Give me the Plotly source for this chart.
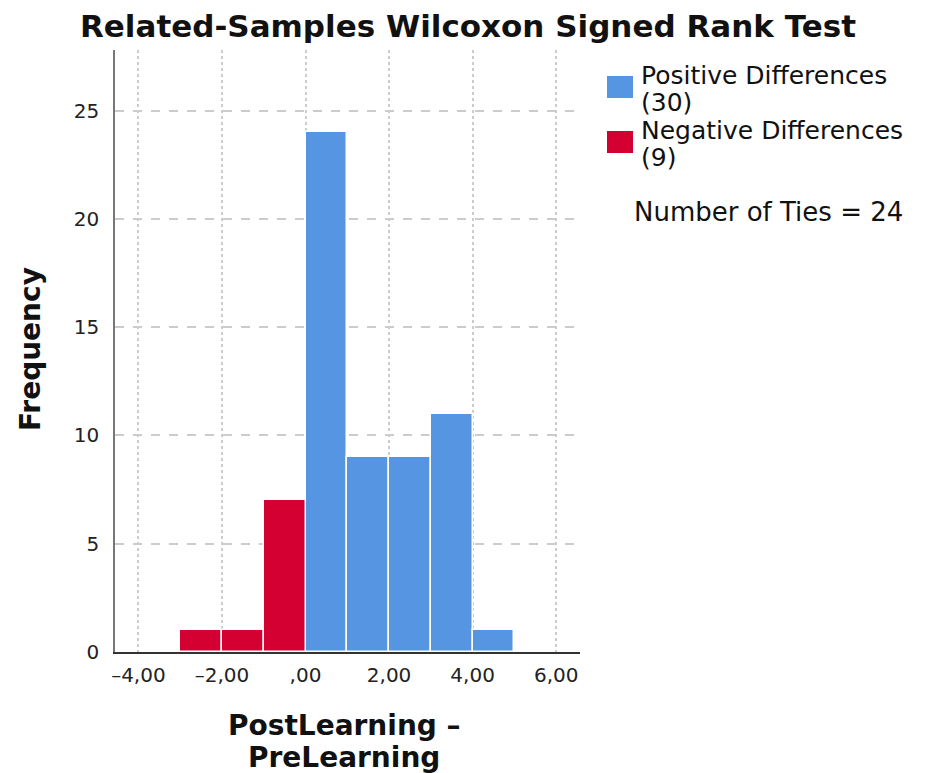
import plotly.graph_objects as go

# Histogram of paired differences (bin width 1)
neg_bins = [-2.5, -1.5, -0.5]
neg_counts = [1, 1, 7]
pos_bins = [0.5, 1.5, 2.5, 3.5, 4.5]
pos_counts = [24, 9, 9, 11, 1]

x_ticks = [-4, -2, 0, 2, 4, 6]
x_ticklabels = ["–4,00", "–2,00", ",00", "2,00", "4,00", "6,00"]
y_ticks = [0, 5, 10, 15, 20, 25]

legend_lines = [("Positive Differences", "(30)"), ("Negative Differences", "(9)")]
ties_label = "Number of Ties = 24"

BLUE = "#5595E2"
RED = "#D50032"
FONT = "DejaVu Sans"

# plot area in pixels (for placing paper-referenced text)
L, R, T, B = 115, 580, 50, 652
W, H = R - L, B - T


def px(x):
    return (x - L) / W


def py(y):
    return (B - y) / H


fig = go.Figure()
fig.add_trace(go.Bar(x=pos_bins, y=pos_counts, width=1,
                     marker=dict(color=BLUE, line=dict(color="white", width=1.5)), showlegend=False))
fig.add_trace(go.Bar(x=neg_bins, y=neg_counts, width=1,
                     marker=dict(color=RED, line=dict(color="white", width=1.5)), showlegend=False))

fig.update_layout(
    width=930, height=773,
    margin=dict(l=L, r=930 - R, t=T, b=773 - B),
    paper_bgcolor="white", plot_bgcolor="white",
    bargap=0,
    title=dict(text="<b>Related-Samples Wilcoxon Signed Rank Test</b>", x=468 / 930, xanchor="center",
               y=1 - 26 / 773, yanchor="middle", font=dict(family=FONT, size=31, color="#111")),
    xaxis=dict(range=[-4.56, 6.57], tickvals=x_ticks, ticktext=x_ticklabels,
               showgrid=True, gridcolor="#cccccc", griddash="dot", gridwidth=1.5,
               showline=True, linecolor="#333", linewidth=1.5, zeroline=False,
               ticks="", ticklabelstandoff=4, tickfont=dict(family=FONT, size=20, color="#222")),
    yaxis=dict(range=[0, 27.8], tickvals=y_ticks,
               showgrid=True, gridcolor="#cccccc", griddash="dash", gridwidth=1.5,
               showline=True, linecolor="#777", linewidth=1.5, zeroline=False,
               ticks="", ticklabelstandoff=10, tickfont=dict(family=FONT, size=20, color="#222")),
)

# Axis titles
fig.add_annotation(xref="paper", yref="paper", x=px(30), y=py(349), textangle=-90,
                   xanchor="center", yanchor="middle", showarrow=False,
                   text="<b>Frequency</b>", font=dict(family=FONT, size=28, color="#111"))
for txt, yc in [("PostLearning –", 725), ("PreLearning", 757)]:
    fig.add_annotation(xref="paper", yref="paper", x=px(344), y=py(yc),
                       xanchor="center", yanchor="middle", showarrow=False,
                       text="<b>" + txt + "</b>", font=dict(family=FONT, size=28, color="#111"))

# Legend: colour swatches with labels
for i, ((line1, line2), col) in enumerate(zip(legend_lines, [BLUE, RED])):
    dy = i * 55
    fig.add_shape(type="rect", xref="paper", yref="paper",
                  x0=px(607), x1=px(633), y0=py(98 + dy), y1=py(76 + dy),
                  fillcolor=col, line=dict(width=0))
    for txt, yc in [(line1, 75 + dy), (line2, 103 + dy)]:
        fig.add_annotation(xref="paper", yref="paper", x=px(639), y=py(yc),
                           xanchor="left", yanchor="middle", showarrow=False,
                           text=txt, font=dict(family=FONT, size=25, color="#111"))

fig.add_annotation(xref="paper", yref="paper", x=px(632), y=py(212),
                   xanchor="left", yanchor="middle", showarrow=False,
                   text=ties_label, font=dict(family=FONT, size=26, color="#111"))

fig.write_html("out.html")
